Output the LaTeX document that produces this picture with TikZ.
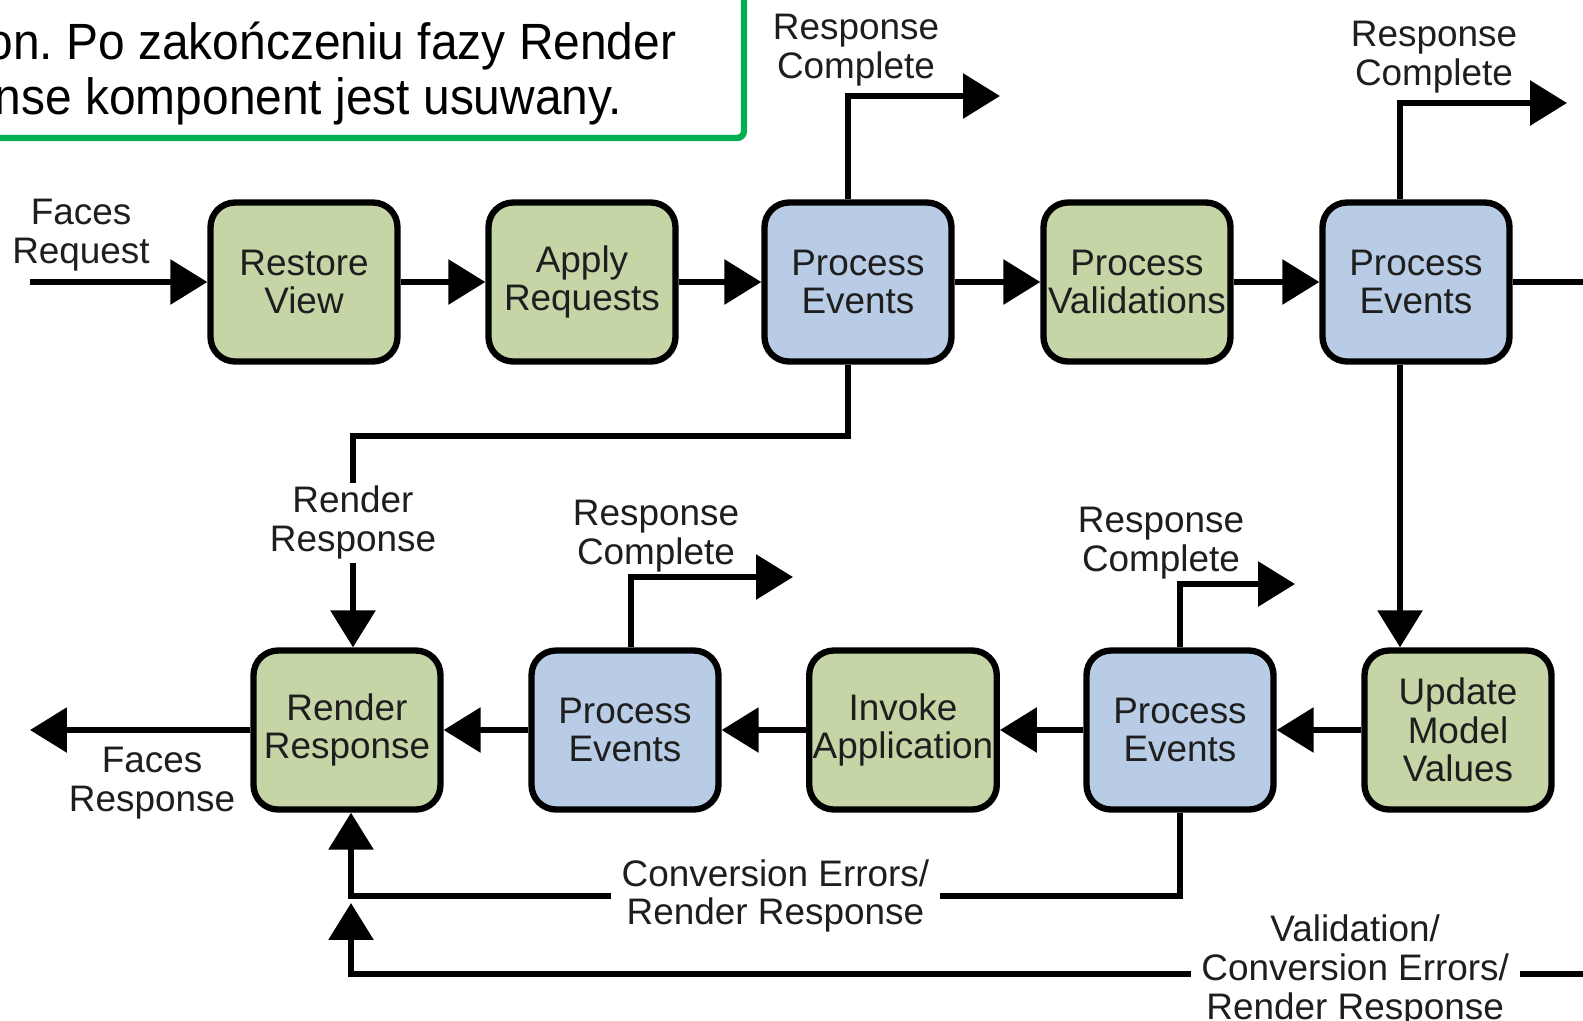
\documentclass[tikz,border=0pt]{standalone}
\usepackage{fontspec}
\setmainfont{Liberation Sans}
\newfontfamily\notefont[FakeStretch=0.94]{Liberation Sans}
\usetikzlibrary{arrows.meta}
\frenchspacing
\definecolor{boxgreen}{RGB}{197,213,166}
\definecolor{boxblue}{RGB}{185,204,229}
\definecolor{notegreen}{RGB}{0,176,80}
\definecolor{txt}{RGB}{30,30,30}
\tikzset{
  phase/.style={draw=black, line width=1.8pt, rounded corners=7pt,
    minimum width=18.7mm, minimum height=15.9mm, align=center,
    font=\fontsize{10.5pt}{11pt}\selectfont, text=txt, inner sep=1pt},
  gphase/.style={phase, fill=boxgreen},
  bphase/.style={phase, fill=boxblue},
  conn/.style={line width=1.7pt},
  arr/.style={conn, -{Triangle[length=10.5pt,width=12.5pt]}},
  lbl/.style={align=center, font=\fontsize{10.5pt}{11pt}\selectfont, text=txt, inner sep=1pt},
  wlbl/.style={lbl, fill=white, inner xsep=3pt},
  notetext/.style={anchor=base east, inner sep=0pt, font=\notefont\fontsize{14.5pt}{16pt}\selectfont},
}
\begin{document}
\begin{tikzpicture}[x=0.1mm,y=-0.1mm]
\clip (0,0) rectangle (1583,1020);
\fill[white] (0,0) rectangle (1583,1020);

% note box
\draw[notegreen, line width=1.8pt, rounded corners=2pt, fill=white] (-30,-30) rectangle (744,138);
\node[notetext] (n1) at (677,59) {on. Po zakończeniu fazy Render};
\node[notetext] (n2) at (623,114) {nse komponent jest usuwany.};

% top row
\node[gphase] (restore) at (304,282) {Restore\\View};
\node[gphase] (apply)   at (582,282) {Apply\\Requests};
\node[bphase] (pe1)     at (858,282) {Process\\Events};
\node[gphase] (pv)      at (1137,282) {Process\\Validations};
\node[bphase] (pe2)     at (1416,282) {Process\\Events};

% bottom row
\node[gphase] (render)  at (347,730) {Render\\Response};
\node[bphase] (pe3)     at (625,730) {Process\\Events};
\node[gphase] (invoke)  at (903,730) {Invoke\\Application};
\node[bphase] (pe4)     at (1180,730) {Process\\Events};
\node[gphase] (update)  at (1458,730) {Update\\Model\\Values};

% labels
\node[lbl] (freq) at (81,235) {Faces\\Request};
\node[lbl] (fresp) at (152,783) {Faces\\Response};
\node[lbl] (rc1l) at (856,50) {Response\\Complete};
\node[lbl] (rc2l) at (1434,57) {Response\\Complete};
\node[lbl] (rc3l) at (656,536) {Response\\Complete};
\node[lbl] (rc4l) at (1161,543) {Response\\Complete};

% coordinates
\coordinate (inL) at (30,282);
\coordinate (outR) at (1600,282);
\coordinate (outL) at (30,730);
\coordinate (rc1) at (1000,96);
\coordinate (rc2) at (1567,103);
\coordinate (rc3) at (793,577);
\coordinate (rc4) at (1295,584);
\coordinate (j1) at (353,436);
\coordinate (j2) at (351,896);
\coordinate (j3) at (351,974);
\coordinate (j3r) at (1600,974);
\coordinate (j3t) at (351,903);

% top row flow
\draw[arr] (inL) -- (restore.west);
\draw[arr] (restore) -- (apply);
\draw[arr] (apply) -- (pe1);
\draw[arr] (pe1) -- (pv);
\draw[arr] (pv) -- (pe2);
\draw[conn] (pe2.east) -- (outR);
\draw[arr] ([xshift=-1mm]pe1.north) |- (rc1);
\draw[arr] ([xshift=-1.6mm]pe2.north) |- (rc2);
\draw[arr] ([xshift=-1.6mm]pe2.south) -- ([xshift=-1.6mm]pe2.south |- update.north);
\draw[arr] ([xshift=-1mm]pe1.south) |- (j1) -- node[wlbl, pos=0.41] (rrl) {Render\\Response} (j1 |- render.north);

% bottom row flow
\draw[arr] (update) -- (pe4);
\draw[arr] (pe4) -- (invoke);
\draw[arr] (invoke) -- (pe3);
\draw[arr] (pe3) -- (render);
\draw[arr] (render.west) -- (outL);
\draw[arr] ([xshift=0.6mm]pe3.north) |- (rc3);
\draw[arr] (pe4.north) |- (rc4);
\draw[arr] (pe4.south) |- node[wlbl, pos=0.744] (cer) {Conversion Errors/\\Render Response} (j2) -- (j2 |- render.south);
\draw[arr] (j3r) -- node[wlbl, pos=0.196, yshift=0.3mm] (vcer) {Validation/\\Conversion Errors/\\Render Response} (j3) -- (j3t);
\end{tikzpicture}
\end{document}
